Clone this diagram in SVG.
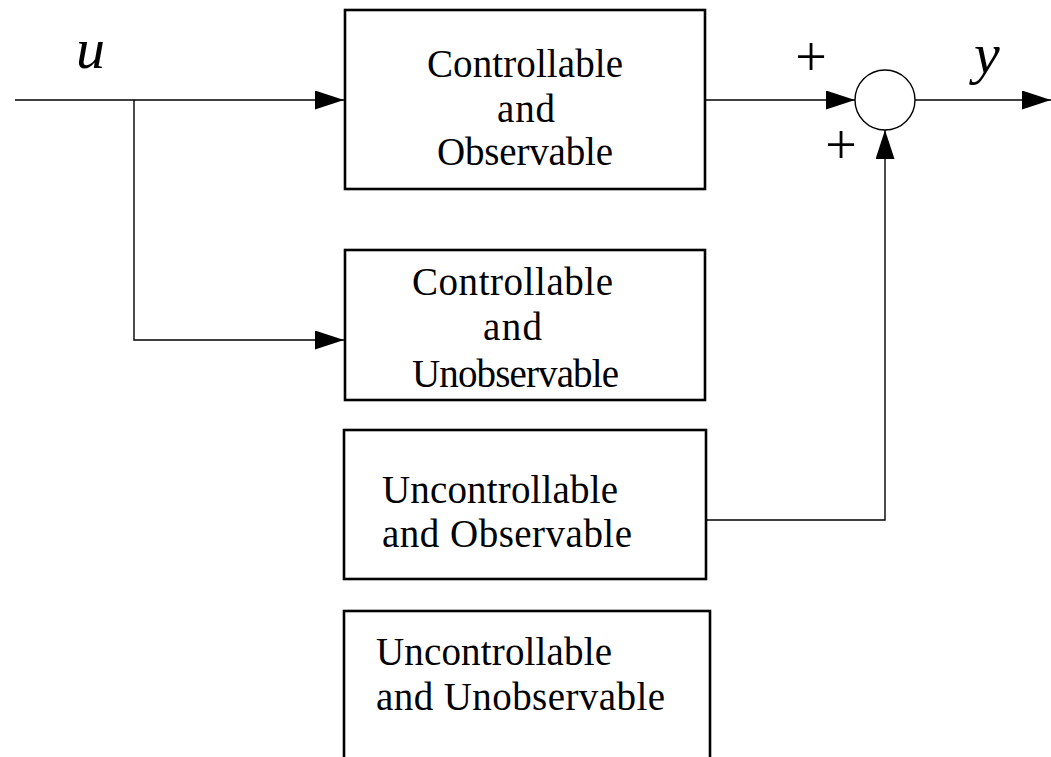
<svg xmlns="http://www.w3.org/2000/svg" width="1051" height="757" viewBox="0 0 1051 757">
<style>
.box{fill:#fff;stroke:#000;stroke-width:2.6}
.ln{fill:none;stroke:#000;stroke-width:1.4}
.t{font-size:39px;fill:#000}
.m{font-style:italic;fill:#000}
.p{font-size:56px;fill:#000}
</style>
<defs>
<marker id="arr" markerUnits="userSpaceOnUse" markerWidth="29" markerHeight="19" refX="29" refY="9.5" orient="auto">
<path d="M0,0 L29,9.5 L0,19 z" fill="#000"/>
</marker>
</defs>
<rect width="1051" height="757" fill="#fff"/>
<g id="connectors">
<line class="ln" x1="15" y1="100" x2="344" y2="100" marker-end="url(#arr)"/>
<polyline class="ln" points="134,100 134,340 344,340" marker-end="url(#arr)"/>
<line class="ln" x1="705" y1="100" x2="855" y2="100" marker-end="url(#arr)"/>
<line class="ln" x1="915" y1="100" x2="1051" y2="100" marker-end="url(#arr)"/>
<polyline class="ln" points="706,520 885,520 885,130" marker-end="url(#arr)"/>
</g>
<g id="sum">
<circle cx="885" cy="100" r="30" fill="#fff" stroke="#000" stroke-width="1.4"/>
</g>
<g id="labels" font-family="'Liberation Serif', 'Times New Roman', 'DejaVu Serif', serif">
<text class="m" x="76" y="68" font-size="58">u</text>
<text class="m" x="974" y="73" font-size="58">y</text>
<text class="p" x="811" y="76" text-anchor="middle">+</text>
<text class="p" x="841" y="164" text-anchor="middle">+</text>
</g>
<g id="box1" font-family="'Liberation Serif', 'Times New Roman', 'DejaVu Serif', serif">
<rect class="box" x="345" y="10" width="360" height="179"/>
<text class="t" x="427" y="77" textLength="196">Controllable</text>
<text class="t" x="497" y="122" textLength="58">and</text>
<text class="t" x="437" y="165" textLength="176">Observable</text>
</g>
<g id="box2" font-family="'Liberation Serif', 'Times New Roman', 'DejaVu Serif', serif">
<rect class="box" x="345" y="250" width="360" height="150"/>
<text class="t" x="412" y="295" textLength="201">Controllable</text>
<text class="t" x="483" y="340" textLength="59">and</text>
<text class="t" x="412" y="387" textLength="207">Unobservable</text>
</g>
<g id="box3" font-family="'Liberation Serif', 'Times New Roman', 'DejaVu Serif', serif">
<rect class="box" x="344" y="430" width="362" height="149"/>
<text class="t" x="382" y="503" textLength="236">Uncontrollable</text>
<text class="t" x="382" y="547" textLength="250">and Observable</text>
</g>
<g id="box4" font-family="'Liberation Serif', 'Times New Roman', 'DejaVu Serif', serif">
<rect class="box" x="344" y="611" width="366" height="160"/>
<text class="t" x="376" y="665" textLength="236">Uncontrollable</text>
<text class="t" x="376" y="710" textLength="289">and Unobservable</text>
</g>
</svg>
